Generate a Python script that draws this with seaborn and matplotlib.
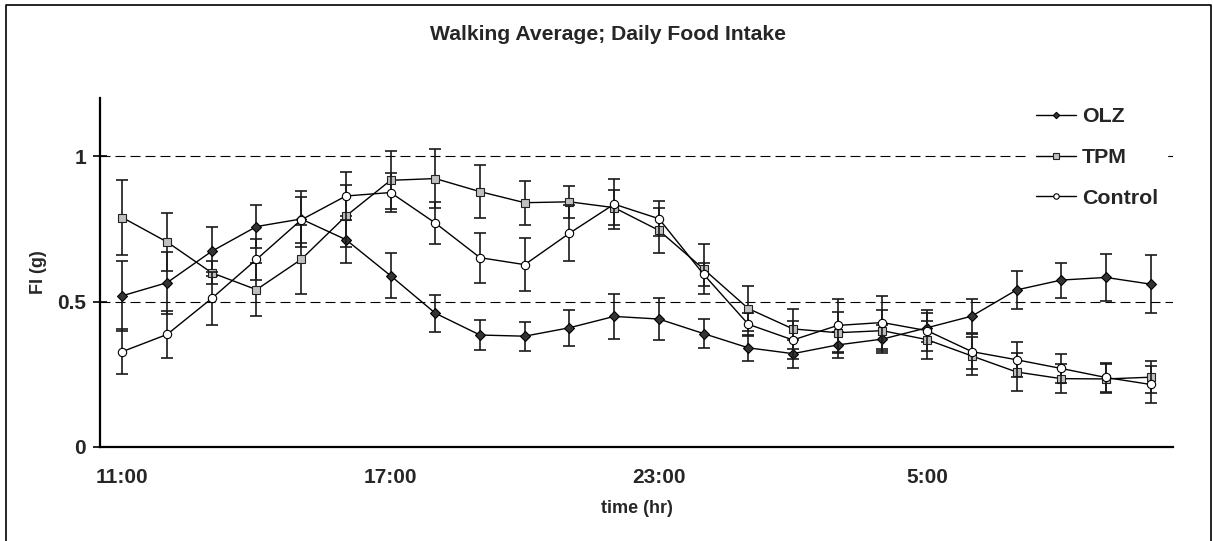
import numpy as np
import pandas as pd
import matplotlib
matplotlib.use("Agg")
import matplotlib.pyplot as plt
import seaborn as sns
from matplotlib.lines import Line2D

# ---------------- data ----------------
slots = list(range(24))
tick_label_pos = [0, 6, 12, 18]
tick_labels = ["11:00", "17:00", "23:00", "5:00"]

olz = [0.52, 0.565, 0.673, 0.758, 0.784, 0.713, 0.589, 0.46, 0.385, 0.381, 0.41, 0.449,
       0.44, 0.39, 0.341, 0.321, 0.351, 0.371, 0.41, 0.45, 0.54, 0.574, 0.583, 0.56]
olz_err = [0.12, 0.107, 0.085, 0.075, 0.095, 0.08, 0.078, 0.064, 0.05, 0.05, 0.062, 0.078,
           0.071, 0.05, 0.045, 0.048, 0.045, 0.047, 0.05, 0.059, 0.064, 0.06, 0.08, 0.10]

tpm = [0.789, 0.705, 0.599, 0.541, 0.645, 0.794, 0.917, 0.923, 0.878, 0.84, 0.843, 0.823,
       0.745, 0.612, 0.476, 0.406, 0.393, 0.40, 0.369, 0.313, 0.258, 0.235, 0.234, 0.24]
tpm_err = [0.13, 0.10, 0.04, 0.09, 0.12, 0.106, 0.10, 0.10, 0.09, 0.075, 0.055, 0.06,
           0.077, 0.086, 0.077, 0.068, 0.07, 0.07, 0.065, 0.066, 0.066, 0.05, 0.05, 0.056]

control = [0.328, 0.387, 0.511, 0.645, 0.781, 0.863, 0.875, 0.77, 0.651, 0.627, 0.735, 0.835,
           0.785, 0.594, 0.422, 0.368, 0.418, 0.428, 0.40, 0.328, 0.30, 0.27, 0.239, 0.215]
control_err = [0.077, 0.08, 0.09, 0.07, 0.08, 0.083, 0.067, 0.072, 0.086, 0.09, 0.097, 0.086,
               0.06, 0.04, 0.04, 0.066, 0.09, 0.09, 0.07, 0.06, 0.06, 0.05, 0.05, 0.062]

series_names = ["OLZ", "TPM", "Control"]

# ---------------- style ----------------
sns.set_style("white")
plt.rcParams["font.family"] = ["Liberation Sans", "DejaVu Sans"]
plt.rcParams["font.weight"] = "bold"

fig = plt.figure(figsize=(12.13, 5.41), dpi=100)
ax = fig.add_axes([100 / 1213, 1 - 447 / 541, 1073 / 1213, 349 / 541])

styles = {
    "OLZ": dict(marker="D", ms=5.0, mfc="#333333", mec="black"),
    "TPM": dict(marker="s", ms=5.8, mfc="#c0c0c0", mec="#222222"),
    "Control": dict(marker="o", ms=6.0, mfc="white", mec="black"),
}
values = {"OLZ": (olz, olz_err), "TPM": (tpm, tpm_err), "Control": (control, control_err)}

# reference lines
for yv in [0.5, 1.0]:
    ax.axhline(yv, color="black", lw=0.8, linestyle=(0, (9, 4.5)), zorder=1)

z = 2.0
for name in series_names:
    vals, errs = values[name]
    df = pd.DataFrame({"slot": slots, "FI": vals})
    ax.errorbar(df["slot"], df["FI"], yerr=errs, fmt="none", ecolor="#1a1a1a",
                elinewidth=1.2, capsize=4.3, capthick=1.2, zorder=z)
    st = styles[name]
    sns.lineplot(data=df, x="slot", y="FI", ax=ax, color="black", lw=1.0,
                 marker=st["marker"], markersize=st["ms"], markerfacecolor=st["mfc"],
                 markeredgecolor=st["mec"], markeredgewidth=0.8, label=name,
                 zorder=z + 0.1)
    z += 0.2

ax.set_xlim(-0.5, 23.5)
ax.set_ylim(0, 1.2)

# axes / spines
for s in ["top", "right"]:
    ax.spines[s].set_visible(False)
for s in ["left", "bottom"]:
    ax.spines[s].set_linewidth(1.6)
    ax.spines[s].set_color("black")

ax.set_xticks(np.arange(-0.5, 24, 3))
ax.set_xticklabels([])
ax.set_xticks(tick_label_pos, minor=True)
ax.set_xticklabels(tick_labels, minor=True, fontsize=15, fontweight="bold")
ax.tick_params(axis="x", which="major", direction="out", length=6, width=1.5, color="black")
ax.tick_params(axis="x", which="minor", length=0, pad=15)

ax.set_yticks([0, 0.5, 1.0])
ax.set_yticklabels(["0", "0.5", "1"], fontsize=15, fontweight="bold")
ax.tick_params(axis="y", which="major", direction="inout", length=10, width=1.2,
               color="black", pad=5, left=True)

ax.set_xlabel("time (hr)", fontsize=13, fontweight="bold")
ax.set_ylabel("FI (g)", fontsize=13, fontweight="bold")
ax.xaxis.set_label_coords(0.5, (447 - 500) / 349)
ax.yaxis.set_label_coords((47 - 100) / 1073, 0.5)
ax.grid(False)

# legend
handles, labels = ax.get_legend_handles_labels()
hl = [(h, l) for h, l in zip(handles, labels) if l in series_names]
leg = ax.legend([h for h, _ in hl], [l for _, l in hl], loc="upper left",
                bbox_to_anchor=(1017 / 1213, 1 - 88 / 541), bbox_transform=fig.transFigure,
                frameon=True, framealpha=1, facecolor="white", edgecolor="white",
                fancybox=False, markerscale=0.65, handlelength=1.85, handletextpad=0.3,
                labelspacing=1.02, borderpad=0.4,
                prop={"family": "Liberation Sans", "weight": "bold", "size": 15.4})
leg.set_zorder(10)

# title
fig.text(608 / 1213, 1 - 35 / 541, "Walking Average; Daily Food Intake",
         ha="center", va="center", fontsize=15.2, fontweight="bold")

# chart border (left, top, right)
bx0, bx1, by0 = 6 / 1213, 1211 / 1213, 1 - 5 / 541
fig.add_artist(Line2D([bx0, bx0, bx1, bx1], [0, by0, by0, 0], transform=fig.transFigure,
                      color="black", lw=1.2))

fig.savefig("out.png", dpi=100)
